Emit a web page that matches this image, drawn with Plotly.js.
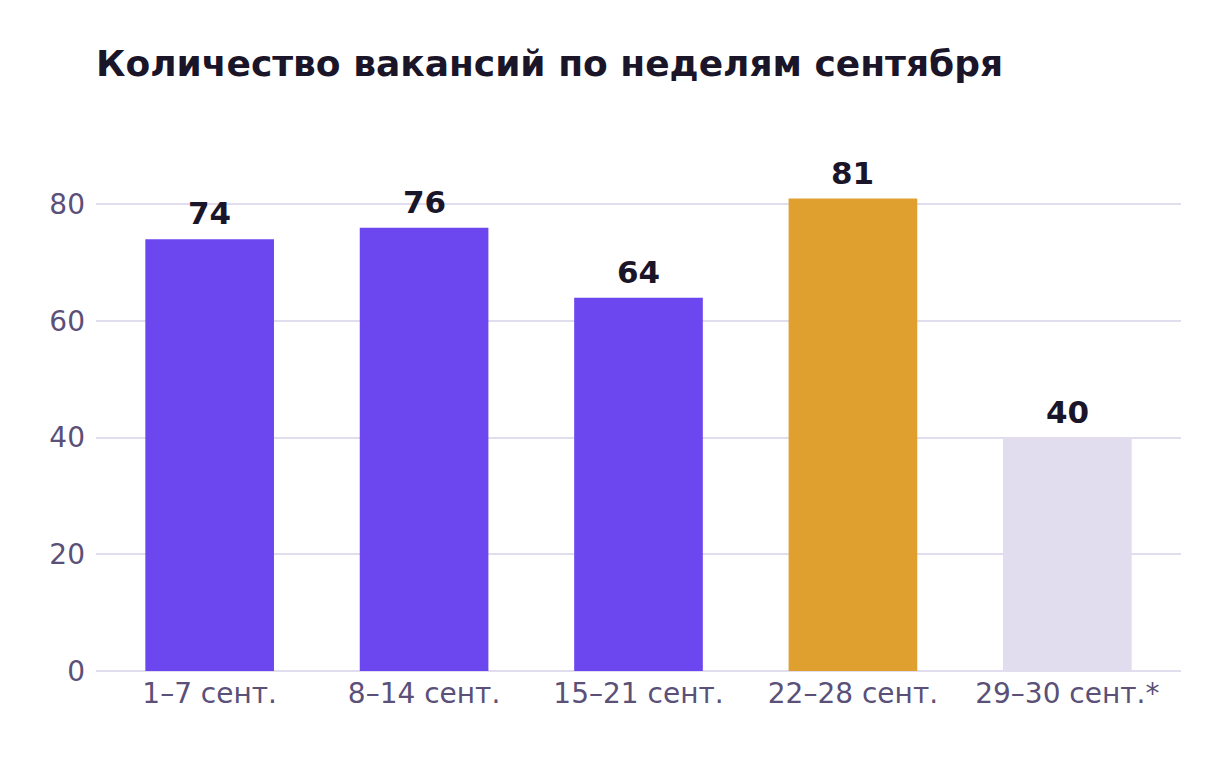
<!DOCTYPE html>
<html>
<head>
<meta charset="utf-8">
<script src="https://cdn.plot.ly/plotly-3.0.1.min.js"></script>
<style>
  html, body { margin: 0; padding: 0; background: #fff; }
  #chart { width: 1230px; height: 758px; }
</style>
</head>
<body>
<div id="chart"></div>
<script>
// weekly vacancy counts, September
const weeks = ['1–7 сент.', '8–14 сент.', '15–21 сент.', '22–28 сент.', '29–30 сент.*'];
const vacancies = [74, 76, 64, 81, 40];
const barColors = ['#6C47F0', '#6C47F0', '#6C47F0', '#DFA030', '#E1DDEF'];

const trace = {
  type: 'bar',
  x: weeks,
  y: vacancies,
  marker: { color: barColors },
  hoverinfo: 'skip'
};

// value labels above the bars
const labels = weeks.map((w, i) => ({
  x: w,
  y: vacancies[i],
  text: '<b>' + vacancies[i] + '</b>',
  showarrow: false,
  yanchor: 'bottom',
  yshift: 6,
  font: { family: 'DejaVu Sans', size: 31, color: '#1A1528' }
}));

const layout = {
  width: 1230,
  height: 758,
  margin: { l: 96, r: 49, t: 146, b: 87 },
  paper_bgcolor: '#fff',
  plot_bgcolor: '#fff',
  font: { family: 'DejaVu Sans', color: '#5A5078' },
  title: {
    text: '<b>Количество вакансий по неделям сентября</b>',
    font: { family: 'DejaVu Sans', size: 36, color: '#1A1528' },
    x: 0, xref: 'paper', xanchor: 'left',
    y: 0.917, yref: 'container', yanchor: 'middle'
  },
  bargap: 0.4,
  showlegend: false,
  annotations: labels,
  xaxis: {
    range: [-0.53, 4.53],
    tickfont: { size: 28, color: '#5A5078' },
    showgrid: false,
    showline: false,
    ticks: '',
    ticklabelstandoff: 3
  },
  yaxis: {
    range: [0, 90],
    tickvals: [0, 20, 40, 60, 80],
    tickfont: { size: 28, color: '#5A5078' },
    gridcolor: '#E1DDEF',
    gridwidth: 2,
    zeroline: true,
    zerolinecolor: '#E1DDEF',
    zerolinewidth: 2,
    ticks: '',
    ticklabelstandoff: 10
  }
};

Plotly.newPlot('chart', [trace], layout, { displayModeBar: false, staticPlot: true });
</script>
</body>
</html>
